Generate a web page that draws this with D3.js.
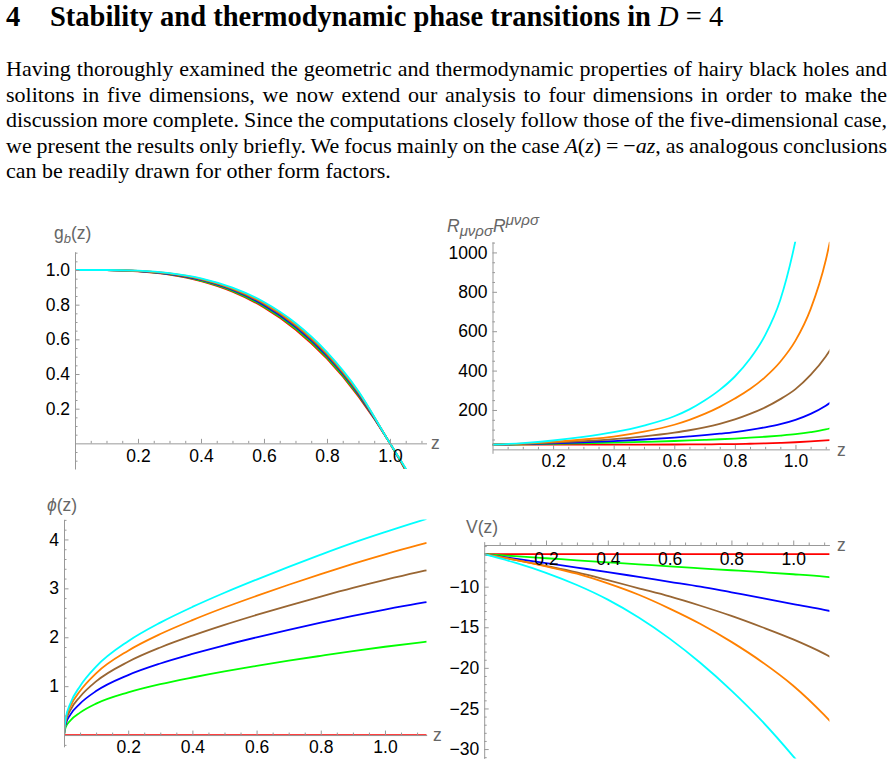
<!DOCTYPE html>
<html>
<head>
<meta charset="utf-8">
<script src="https://cdn.jsdelivr.net/npm/d3@7"></script>
<style>
  body { margin: 0; background: #fff; }
  svg { display: block; }
</style>
</head>
<body>
<svg id="page" width="895" height="765"></svg>
<script>
// series order: a = 0, 0.2, 0.4, 0.6, 0.8, 1.0
var seriesColors = ["#ff0000", "#00ff00", "#0000ff", "#996633", "#ff8000", "#00ffff"];

// g_b(z)
var gbZ = [0, 0.1, 0.2, 0.3, 0.4, 0.5, 0.6, 0.7, 0.8, 0.9, 1.0, 1.05, 1.1, 1.12];
var gbValues = [
    [1, 0.999, 0.992, 0.973, 0.936, 0.875, 0.784, 0.657, 0.488, 0.271, 0, -0.158, -0.331, -0.405],
    [1, 0.999, 0.993, 0.975, 0.939, 0.880, 0.790, 0.664, 0.496, 0.277, 0, -0.155, -0.327, -0.400],
    [1, 0.999, 0.994, 0.977, 0.943, 0.885, 0.797, 0.672, 0.504, 0.284, 0, -0.152, -0.322, -0.395],
    [1, 1.000, 0.995, 0.979, 0.946, 0.890, 0.804, 0.680, 0.512, 0.290, 0, -0.150, -0.318, -0.390],
    [1, 1.000, 0.995, 0.980, 0.949, 0.894, 0.810, 0.687, 0.519, 0.296, 0, -0.147, -0.314, -0.385],
    [1, 1.000, 0.996, 0.982, 0.952, 0.898, 0.815, 0.694, 0.526, 0.301, 0, -0.145, -0.310, -0.380]
];

// Kretschmann scalar
var kZ = [0, 0.1, 0.2, 0.3, 0.4, 0.5, 0.6, 0.65, 0.7, 0.75, 0.8, 0.85, 0.9, 0.95, 1.0, 1.05, 1.1, 1.12];
var kValues = [
    [24, 24, 24, 24, 24.1, 24.2, 24.6, 24.9, 25.4, 26.1, 27.1, 28.5, 30.4, 32.8, 36, 40.1, 45.3, 47.7],
    [24, 25.5, 28, 31, 34, 38, 42.5, 45.2, 48, 51.3, 55, 59.3, 64, 70, 77, 87, 101, 109],
    [24, 27, 31, 36, 42, 50, 60, 65.8, 72, 79.5, 88, 99, 112, 128, 150, 180, 222, 242],
    [24, 28, 34, 42, 52, 66, 85, 97, 112, 130, 152, 180, 213, 255, 306, 378, 472, 518],
    [24, 29, 38, 50, 65, 90, 125, 150, 180, 216, 258, 306, 367, 445, 552, 712, 960, 1100],
    [24, 32, 45, 63, 87, 121, 168, 203, 248, 302, 370, 460, 580, 760, 1060, 1500, 2100, 2400]
];

// phi(z)
var phiZ = [0, 0.005, 0.02, 0.05, 0.1, 0.2, 0.3, 0.4, 0.5, 0.6, 0.7, 0.8, 0.9, 1.0, 1.1, 1.13];
var phiValues = [
    [0, 0, 0, 0, 0, 0, 0, 0, 0, 0, 0, 0, 0, 0, 0, 0],
    [0, 0.153, 0.299, 0.459, 0.642, 0.872, 1.040, 1.177, 1.301, 1.413, 1.520, 1.620, 1.717, 1.806, 1.887, 1.91],
    [0, 0.214, 0.419, 0.643, 0.899, 1.227, 1.463, 1.658, 1.835, 1.997, 2.151, 2.298, 2.438, 2.567, 2.687, 2.72],
    [0, 0.260, 0.511, 0.784, 1.097, 1.499, 1.791, 2.033, 2.253, 2.456, 2.649, 2.833, 3.010, 3.174, 3.327, 3.37],
    [0, 0.298, 0.587, 0.901, 1.263, 1.726, 2.066, 2.350, 2.608, 2.846, 3.074, 3.292, 3.501, 3.697, 3.879, 3.93],
    [0, 0.330, 0.650, 1.000, 1.400, 1.920, 2.300, 2.620, 2.910, 3.180, 3.440, 3.690, 3.930, 4.150, 4.360, 4.42]
];

// V(z)
var vZ = [0, 0.1, 0.2, 0.3, 0.4, 0.5, 0.6, 0.7, 0.8, 0.9, 1.0, 1.1, 1.12];
var vValues = [
    [-6, -6, -6, -6, -6, -6, -6, -6, -6, -6, -6, -6, -6],
    [-6, -6.25, -6.5, -6.75, -7.0, -7.25, -7.5, -7.74, -7.98, -8.22, -8.47, -8.77, -8.85],
    [-6, -6.55, -7.1, -7.65, -8.2, -8.8, -9.4, -10.0, -10.7, -11.4, -12.15, -12.85, -13.0],
    [-6, -6.7, -7.45, -8.25, -9.2, -10.2, -11.2, -12.35, -13.6, -15.0, -16.5, -18.25, -18.65],
    [-6, -6.7, -7.5, -8.4, -9.6, -11.0, -12.7, -14.6, -16.8, -19.3, -22.2, -25.8, -26.6],
    [-6, -7.05, -8.3, -9.8, -11.6, -13.8, -16.4, -19.4, -22.8, -26.6, -30.9, -35.6, -36.6]
];

var xMajor = [0.2, 0.4, 0.6, 0.8, 1.0];

var svg = d3.select("#page");
var serif = "'Liberation Serif','Times New Roman',serif";
var sans = "'Liberation Sans',Arial,Helvetica,sans-serif";

// ---- heading and paragraph ----
var title = svg.append("text")
    .attr("y", 26)
    .style("font-family", serif)
    .style("font-size", "28.5px")
    .style("font-weight", "bold");
title.append("tspan").attr("x", 6).text("4");
title.append("tspan").attr("x", 50).text("Stability and thermodynamic phase transitions in ");
title.append("tspan").style("font-style", "italic").style("font-weight", "normal").text("D");
title.append("tspan").style("font-weight", "normal").text(" = 4");

var paraLines = [
    [["Having thoroughly examined the geometric and thermodynamic properties of hairy black holes and", false]],
    [["solitons in five dimensions, we now extend our analysis to four dimensions in order to make the", false]],
    [["discussion more complete. Since the computations closely follow those of the five-dimensional case,", false]],
    [["we present the results only briefly. We focus mainly on the case ", false], ["A", true], ["(", false],
     ["z", true], [") = \u2212", false], ["az", true], [", as analogous conclusions", false]],
    [["can be readily drawn for other form factors.", false]]
];
var paraLeft = 6, paraRight = 887;
paraLines.forEach(function (parts, i) {
    var t = svg.append("text")
        .attr("x", paraLeft)
        .attr("y", 76 + i * 25.5)
        .style("font-family", serif)
        .style("font-size", "22px");
    parts.forEach(function (p) {
        t.append("tspan").style("font-style", p[1] ? "italic" : "normal").text(p[0]);
    });
    if (i < paraLines.length - 1) {
        var gaps = parts.map(function (p) { return p[0]; }).join("").split(" ").length - 1;
        var len = t.node().getComputedTextLength();
        t.style("word-spacing", ((paraRight - paraLeft - len) / gaps) + "px");
    }
});

// ---- panels ----
var axisColor = "#999";
var labelColor = "#666";

function drawPanel(p) {
    var x = d3.scaleLinear().domain(p.xDomain).range(p.xRange);
    var y = d3.scaleLinear().domain(p.yDomain).range(p.yRange);
    var g = svg.append("g");

    g.append("clipPath").attr("id", p.id)
        .append("rect")
        .attr("x", p.xRange[0]).attr("y", p.yRange[1])
        .attr("width", p.xRange[1] - p.xRange[0])
        .attr("height", p.yRange[0] - p.yRange[1]);

    var line = d3.line()
        .x(function (d, i) { return x(p.z[i]); })
        .y(function (d) { return y(d); })
        .curve(d3.curveMonotoneX);

    g.append("g").attr("clip-path", "url(#" + p.id + ")")
        .selectAll("path")
        .data(p.values)
        .join("path")
        .attr("d", line)
        .attr("fill", "none")
        .attr("stroke", function (d, i) { return seriesColors[i]; })
        .attr("stroke-width", 1.8);

    var axY = y(p.xAxisAt);
    var axX = x(0);

    // minor ticks
    var xMinor = d3.range(0.05, p.xDomain[1], 0.05).filter(function (v) {
        return Math.abs(v * 5 - Math.round(v * 5)) > 1e-6;
    });
    g.append("g").attr("transform", "translate(0," + axY + ")")
        .call(d3.axisBottom(x).tickValues(xMinor).tickSize(-2.5).tickFormat(""))
        .call(function (s) { s.select(".domain").remove(); });
    g.append("g").attr("transform", "translate(" + axX + ",0)")
        .call(d3.axisLeft(y).tickValues(p.yMinor).tickSize(-2.5).tickFormat(""))
        .call(function (s) { s.select(".domain").remove(); });

    // major ticks
    g.append("g").attr("transform", "translate(0," + axY + ")")
        .call(d3.axisBottom(x).tickValues(xMajor).tickSizeInner(-4.5).tickSizeOuter(0)
            .tickPadding(p.xPad).tickFormat(d3.format(".1f")));
    g.append("g").attr("transform", "translate(" + axX + ",0)")
        .call(d3.axisLeft(y).tickValues(p.yMajor).tickSizeInner(-4.5).tickSizeOuter(0)
            .tickPadding(5).tickFormat(p.yFormat));

    g.selectAll(".domain, .tick line").attr("stroke", axisColor).attr("stroke-width", 1);
    g.selectAll(".tick text")
        .attr("fill", "#000")
        .style("font-family", sans)
        .style("font-size", "17.5px");

    // axis labels
    g.append("text")
        .attr("x", p.zLabel[0]).attr("y", p.zLabel[1])
        .attr("fill", labelColor)
        .style("font-family", sans).style("font-size", "17.5px")
        .text("z");
    var lab = g.append("text")
        .attr("x", p.yLabel[0]).attr("y", p.yLabel[1])
        .attr("fill", labelColor)
        .style("font-family", sans).style("font-size", "17.5px");
    p.yLabelParts.forEach(function (part) {
        var ts = lab.append("tspan").text(part.t);
        if (part.italic) ts.style("font-style", "italic");
        if (part.sub) ts.attr("dy", part.sub).style("font-size", part.size || "13px");
        if (part.back) ts.attr("dy", part.back);
    });
}

drawPanel({
    id: "clipGb",
    z: gbZ, values: gbValues,
    xDomain: [0, 1.116], xRange: [75, 426.5],
    yDomain: [-0.148, 1.105], yRange: [469, 251.8],
    xAxisAt: 0,
    yMajor: [0.2, 0.4, 0.6, 0.8, 1.0],
    yMinor: d3.range(-0.1, 1.1, 0.05).filter(function (v) { return Math.abs(v * 5 - Math.round(v * 5)) > 1e-6; }),
    yFormat: d3.format(".1f"),
    xPad: 6,
    zLabel: [431, 449],
    yLabel: [54, 239],
    yLabelParts: [{t: "g"}, {t: "b", italic: true, sub: 4}, {t: "(z)", back: -4}]
});

drawPanel({
    id: "clipK",
    z: kZ, values: kValues,
    xDomain: [0, 1.112], xRange: [492.5, 829.4],
    yDomain: [-20, 1054], yRange: [453.3, 241.8],
    xAxisAt: 0,
    yMajor: [200, 400, 600, 800, 1000],
    yMinor: d3.range(50, 1051, 50).filter(function (v) { return v % 200 !== 0; }),
    yFormat: d3.format("d"),
    xPad: 5,
    zLabel: [837, 456],
    yLabel: [447, 232],
    yLabelParts: [{t: "R", italic: true}, {t: "\u03bc\u03bd\u03c1\u03c3", italic: true, sub: 4, size: "15px"},
                  {t: "R", italic: true, back: -4},
                  {t: "\u03bc\u03bd\u03c1\u03c3", italic: true, sub: -7, size: "15px"}]
});

drawPanel({
    id: "clipPhi",
    z: phiZ, values: phiValues,
    xDomain: [0, 1.13], xRange: [64, 426.7],
    yDomain: [-0.24, 4.41], yRange: [746.8, 519.4],
    xAxisAt: 0,
    yMajor: [1, 2, 3, 4],
    yMinor: d3.range(-0.2, 4.41, 0.2).filter(function (v) { return Math.abs(v - Math.round(v)) > 1e-6; }),
    yFormat: d3.format("d"),
    xPad: 6,
    zLabel: [433, 741],
    yLabel: [47, 511],
    yLabelParts: [{t: "\u03d5", italic: true}, {t: "(z)"}]
});

drawPanel({
    id: "clipV",
    z: vZ, values: vValues,
    xDomain: [0, 1.117], xRange: [484.2, 829.4],
    yDomain: [-31.15, -4.45], yRange: [758.4, 541.6],
    xAxisAt: -4.87,
    yMajor: [-10, -15, -20, -25, -30],
    yMinor: d3.range(-31, -4, 1).filter(function (v) { return v % 5 !== 0 || v === -5; }),
    yFormat: d3.format("d"),
    xPad: 8,
    zLabel: [837, 551],
    yLabel: [466, 533],
    yLabelParts: [{t: "V(z)"}]
});
</script>
</body>
</html>
